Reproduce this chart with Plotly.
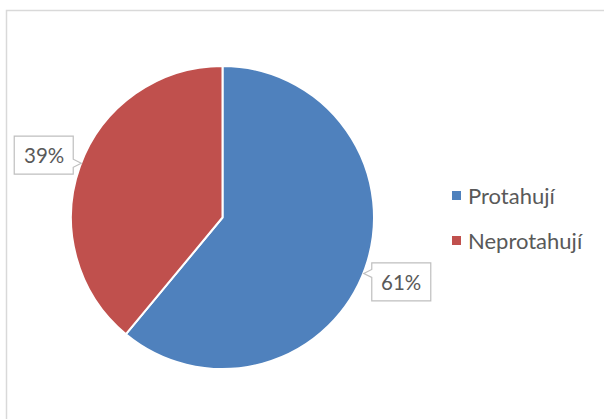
import math
import plotly.graph_objects as go

# ---- data ----
labels = ["Protahují", "Neprotahují"]
values = [61, 39]
colors = ["#4F81BD", "#C0504D"]

W, H = 604, 419
CX, CY, R = 222.5, 217.5, 151.5
TEXT_COLOR = "#595959"
FONT = "Lato"


def px(x):
    return x / W


def py(y):
    return 1 - y / H


fig = go.Figure()
fig.add_trace(go.Pie(
    labels=labels,
    values=values,
    sort=False,
    direction="clockwise",
    rotation=0,
    marker=dict(colors=colors, line=dict(color="white", width=2)),
    textinfo="none",
    hoverinfo="label+percent",
    showlegend=False,
    domain=dict(x=[px(CX - R), px(CX + R)], y=[py(CY + R), py(CY - R)]),
))

shapes = []
annotations = []

# outer chart-area border (cropped at right/bottom)
shapes.append(dict(type="path", xref="paper", yref="paper",
                   path=f"M {px(6.5)},{py(440)} L {px(6.5)},{py(10.5)} L {px(640)},{py(10.5)}",
                   line=dict(color="#D9D9D9", width=1.5)))

# data-label callouts positioned from slice mid-angles
total = sum(values)
cum = 0
LR = 190
BW, BH = 59, 38
for v in values:
    mid = (cum + v / 2) / total * 2 * math.pi
    cum += v
    dx, dy = math.sin(mid), -math.cos(mid)
    bx, by = CX + dx * LR, CY + dy * LR + (2 if dx < 0 else 0)
    x0, x1 = bx - BW / 2, bx + BW / 2
    y0, y1 = by - BH / 2, by + BH / 2
    pyc = by + 0.13 * (CY - by)
    if dx < 0:  # pointer on right side
        path = (f"M {x0},{y0} L {x1},{y0} L {x1},{pyc-4} L {x1+8},{pyc} L {x1},{pyc+4} "
                f"L {x1},{y1} L {x0},{y1} Z")
    else:  # pointer on left side
        path = (f"M {x0},{y0} L {x1},{y0} L {x1},{y1} L {x0},{y1} L {x0},{pyc+4} "
                f"L {x0-8},{pyc} L {x0},{pyc-4} Z")
    toks = path.split()
    out = []
    for t in toks:
        if "," in t:
            a, b = t.split(",")
            out.append(f"{px(float(a))},{py(float(b))}")
        else:
            out.append(t)
    shapes.append(dict(type="path", xref="paper", yref="paper", path=" ".join(out),
                       fillcolor="white", line=dict(color="#BFBFBF", width=1.2), layer="above"))
    annotations.append(dict(x=px(bx), y=py(by), xref="paper", yref="paper",
                            text=f"{round(v / total * 100)}%", showarrow=False,
                            font=dict(family=FONT, size=20.5, color=TEXT_COLOR),
                            xanchor="center", yanchor="middle"))

# manual legend
LEG_X, LEG_Y0, LEG_DY = 452, 195.5, 45
for i, (lab, col) in enumerate(zip(labels, colors)):
    yc = LEG_Y0 + i * LEG_DY
    shapes.append(dict(type="rect", xref="paper", yref="paper",
                       x0=px(LEG_X), x1=px(LEG_X + 9), y0=py(yc - 4.5), y1=py(yc + 4.5),
                       fillcolor=col, line=dict(width=0)))
    annotations.append(dict(x=px(LEG_X + 14), y=py(yc), xref="paper", yref="paper",
                            text=lab, showarrow=False, xanchor="left", yanchor="middle",
                            font=dict(family=FONT, size=22, color=TEXT_COLOR)))

fig.update_layout(
    width=W, height=H,
    margin=dict(l=0, r=0, t=0, b=0),
    paper_bgcolor="white", plot_bgcolor="white",
    shapes=shapes, annotations=annotations,
)

fig.write_html("out.html", config={"displayModeBar": False},
               post_script="document.body.style.margin='0';document.body.style.padding='0';")
